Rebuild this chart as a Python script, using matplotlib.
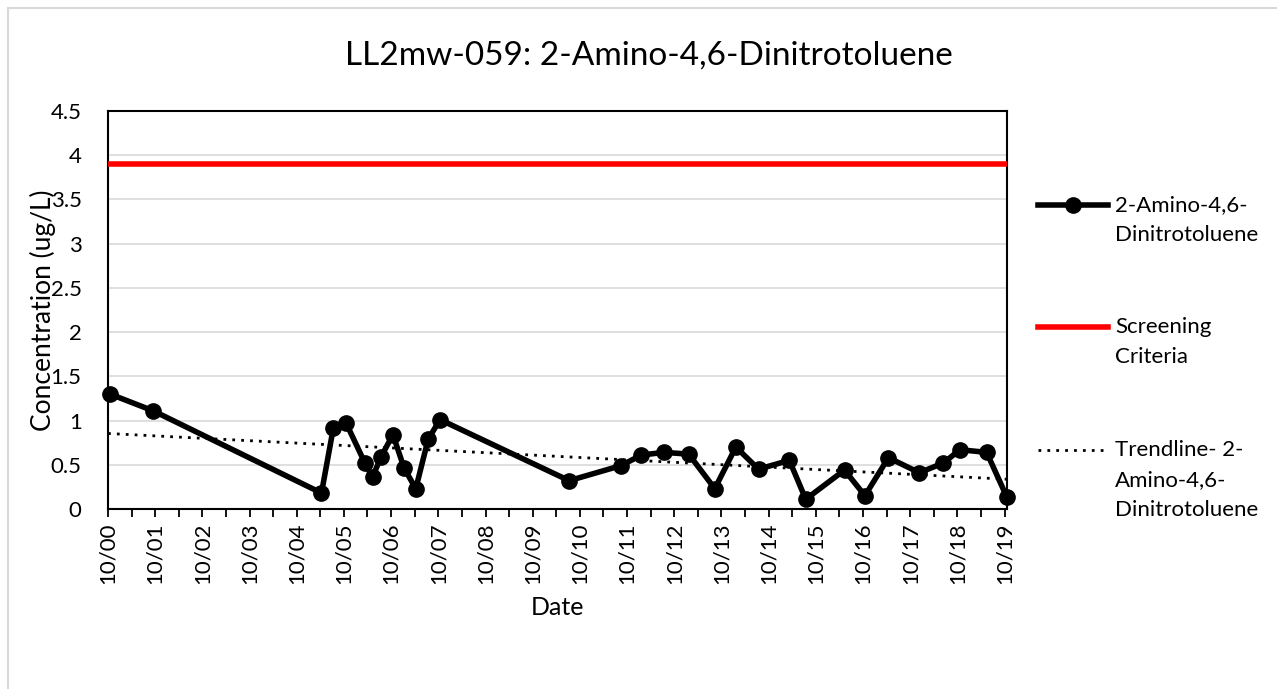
import matplotlib
matplotlib.use('Agg')
import matplotlib.pyplot as plt
import matplotlib.dates as mdates
from matplotlib.lines import Line2D
from matplotlib.patches import Rectangle
import numpy as np
import pandas as pd

plt.rcParams['font.family'] = ['Lato', 'DejaVu Sans']

# sample dates and concentrations (ug/L)
dates = ['2000-10-15', '2001-09-15', '2005-04-10', '2005-07-10', '2005-10-18',
         '2006-03-12', '2006-05-10', '2006-07-15', '2006-10-15', '2007-01-10',
         '2007-04-10', '2007-07-15', '2007-10-15', '2010-07-10', '2011-08-15',
         '2012-01-20', '2012-07-15', '2013-01-20', '2013-08-10', '2014-01-20',
         '2014-07-15', '2015-03-10', '2015-07-15', '2016-05-10', '2016-10-15',
         '2017-04-15', '2017-12-10', '2018-06-15', '2018-10-20', '2019-05-15',
         '2019-10-20']
conc = [1.30, 1.11, 0.18, 0.91, 0.97,
        0.52, 0.36, 0.59, 0.84, 0.46,
        0.23, 0.79, 1.01, 0.32, 0.49,
        0.61, 0.64, 0.62, 0.23, 0.70,
        0.45, 0.55, 0.11, 0.44, 0.15,
        0.58, 0.41, 0.52, 0.67, 0.64,
        0.13]
screening = 3.9
yticks = [0, 0.5, 1, 1.5, 2, 2.5, 3, 3.5, 4, 4.5]
ytick_labels = ['0', '0.5', '1', '1.5', '2', '2.5', '3', '3.5', '4', '4.5']

x = pd.to_datetime(dates)
xnum = mdates.date2num(x)
xmin = mdates.date2num(pd.Timestamp('2000-10-01'))
xmax = xnum.max()

# linear trendline like Excel's
slope, icpt = np.polyfit(xnum, conc, 1)
tx = np.array([xmin, xmax])
ty = slope * tx + icpt

fig = plt.figure(figsize=(12.77, 6.89), dpi=100)
ax = fig.add_axes([0.0846, 0.2613, 0.7040, 0.5776])

ax.plot(tx, ty, color='black', lw=2, linestyle=(0, (1, 2.2)), zorder=3)
ax.axhline(screening, color='#ff0000', lw=4, zorder=3)
ax.plot(xnum, conc, color='black', lw=4, marker='o', markersize=11, zorder=4, clip_on=False)

ax.set_xlim(xmin, xmax)
ax.set_ylim(0, 4.5)
ax.set_yticks(yticks)
ax.set_yticklabels(ytick_labels)
ax.yaxis.grid(True, color='#d9d9d9', lw=1.2)
ax.set_axisbelow(True)
ax.tick_params(axis='y', length=0, labelsize=16, pad=19)

ax.xaxis.set_major_locator(mdates.MonthLocator(bymonth=[10]))
ax.xaxis.set_minor_locator(mdates.MonthLocator(bymonth=[4]))
ax.xaxis.set_major_formatter(mdates.DateFormatter('%m/%y'))
ax.tick_params(axis='x', which='both', direction='out', length=6, width=1.3, labelsize=16, rotation=90, pad=4)

for s in ax.spines.values():
    s.set_color('black')
    s.set_linewidth(1.5)

ax.set_xlabel('Date', fontsize=18, labelpad=8)
ax.set_ylabel('Concentration (ug/L)', fontsize=19)
ax.yaxis.set_label_coords(-0.058, 0.5)
fig.text(0.508, 0.92, 'LL2mw-059: 2-Amino-4,6-Dinitrotoluene', ha='center', va='center', fontsize=24)

# chart border
fig.add_artist(Rectangle((7.5 / 1277, -0.01), 1.02, 1 - 7.5 / 689 + 0.01, transform=fig.transFigure,
                         fill=False, edgecolor='#d9d9d9', lw=1.5))

# legend drawn by hand so the handle sits on the first text line
W, H = 1277.0, 689.0
entries = [
    (205, ['2-Amino-4,6-', 'Dinitrotoluene'], dict(color='black', lw=4, marker='o', markersize=11, markevery=[1])),
    (327, ['Screening', 'Criteria'], dict(color='#ff0000', lw=4)),
    (450, ['Trendline- 2-', 'Amino-4,6-', 'Dinitrotoluene'], dict(color='black', lw=2, linestyle=(0, (1, 2.2)))),
]
for ypx, lines, style in entries:
    yf = 1 - ypx / H
    fig.add_artist(Line2D([1038 / W, 1073 / W, 1108 / W], [yf, yf, yf], transform=fig.transFigure, **style))
    for i, t in enumerate(lines):
        fig.text(1115 / W, 1 - (ypx + 30 * i) / H, t, ha='left', va='center', fontsize=16)

fig.savefig('out.png', dpi=100)
